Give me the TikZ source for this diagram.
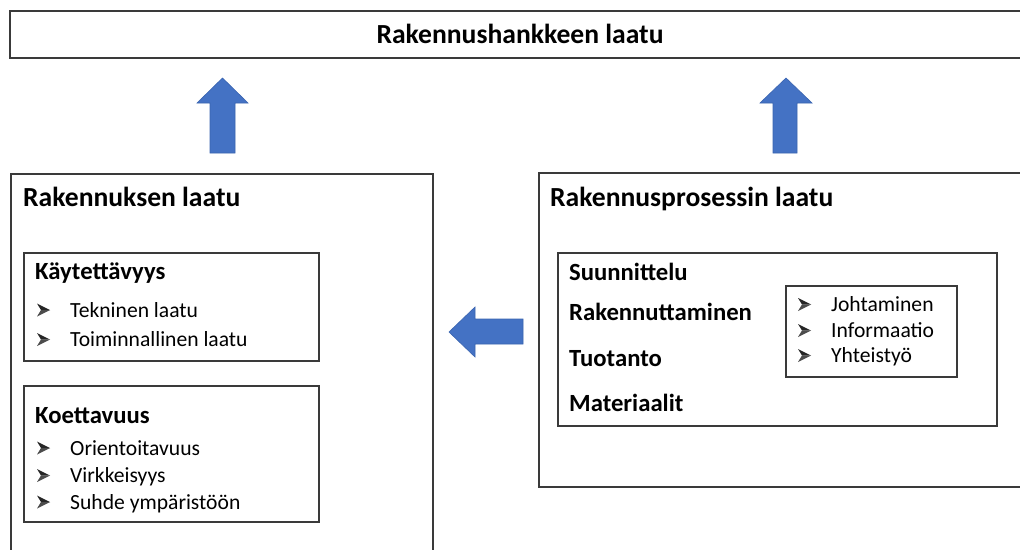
\documentclass[tikz,border=0pt]{standalone}
\usepackage{fontspec}
\setmainfont{Carlito}
\definecolor{arrowblue}{HTML}{4472C4}
\definecolor{arrowedge}{HTML}{3A64B0}
\definecolor{boxline}{HTML}{3A3A3A}
\tikzset{
  frame/.style={draw=boxline, line width=1.6pt},
  headtxt/.style={font=\fontsize{27.6}{30}\selectfont\bfseries, inner sep=0pt, anchor=base west},
  subtxt/.style={font=\fontsize{24.7}{28}\selectfont\bfseries, inner sep=0pt, anchor=base west},
  itemtxt/.style={font=\fontsize{21.6}{24}\selectfont, inner sep=0pt, anchor=base west},
  blockarrow/.style={fill=arrowblue, draw=arrowedge, line width=0.6pt, line join=miter},
  arrowbul/.pic={
    \fill[black!85] (0,-6.5) -- (13,0) -- (4,0) -- cycle;
    \fill[black!70] (0,6.5) -- (13,0) -- (4,0) -- cycle;
  },
}
\begin{document}
\begin{tikzpicture}[x=1pt,y=-1pt]
\useasboundingbox (0,0) rectangle (1020,549);
\clip (0,0) rectangle (1020,549);
\fill[white] (0,0) rectangle (1020,549);

% top box
\draw[frame] (10,11) rectangle (1035,58);
\node[headtxt, anchor=base] (title) at (520,43) {Rakennushankkeen laatu};

% up arrows
\draw[blockarrow] (210,153) -- (210,103) -- (197,103) -- (222.5,78) -- (248,103) -- (235,103) -- (235,153) -- cycle;
\draw[blockarrow] (773,153) -- (773,103) -- (760,103) -- (786,78) -- (812,103) -- (797,103) -- (797,153) -- cycle;

% left big box
\draw[frame] (11,174) rectangle (433,570);
\node[headtxt] (rl) at (23,206) {Rakennuksen laatu};

\draw[frame] (24,253) rectangle (319,361);
\node[subtxt] (kay) at (35,279) {Käytettävyys};
\pic at (37,310) {arrowbul};
\node[itemtxt] (i1) at (70,317) {Tekninen laatu};
\pic at (37,339.5) {arrowbul};
\node[itemtxt] (i2) at (70,346.5) {Toiminnallinen laatu};

\draw[frame] (24,386) rectangle (319,522);
\node[subtxt] (koe) at (35,423) {Koettavuus};
\pic at (37,448) {arrowbul};
\node[itemtxt] (i3) at (70,455) {Orientoitavuus};
\pic at (37,475.5) {arrowbul};
\node[itemtxt] (i4) at (70,482.5) {Virkkeisyys};
\pic at (37,502) {arrowbul};
\node[itemtxt] (i5) at (70,509) {Suhde ympäristöön};

% left arrow
\draw[blockarrow] (523,319) -- (475,319) -- (475,307) -- (449,332) -- (475,357) -- (475,344) -- (523,344) -- cycle;

% right big box
\draw[frame] (539,173) rectangle (1035,487);
\node[headtxt] (rp) at (550,206) {Rakennusprosessin laatu};

\draw[frame] (558,253) rectangle (997,426);
\node[subtxt] (s1) at (569,280) {Suunnittelu};
\node[subtxt] (s2) at (569,320.5) {Rakennuttaminen};
\node[subtxt] (s3) at (569,366) {Tuotanto};
\node[subtxt] (s4) at (569,411) {Materiaalit};

\draw[frame] (786,286) rectangle (957,377);
\pic at (798,304.5) {arrowbul};
\node[itemtxt] (j1) at (831,311.5) {Johtaminen};
\pic at (798,330.5) {arrowbul};
\node[itemtxt] (j2) at (831,337.5) {Informaatio};
\pic at (798,355.5) {arrowbul};
\node[itemtxt] (j3) at (831,362.5) {Yhteistyö};
\end{tikzpicture}
\end{document}
